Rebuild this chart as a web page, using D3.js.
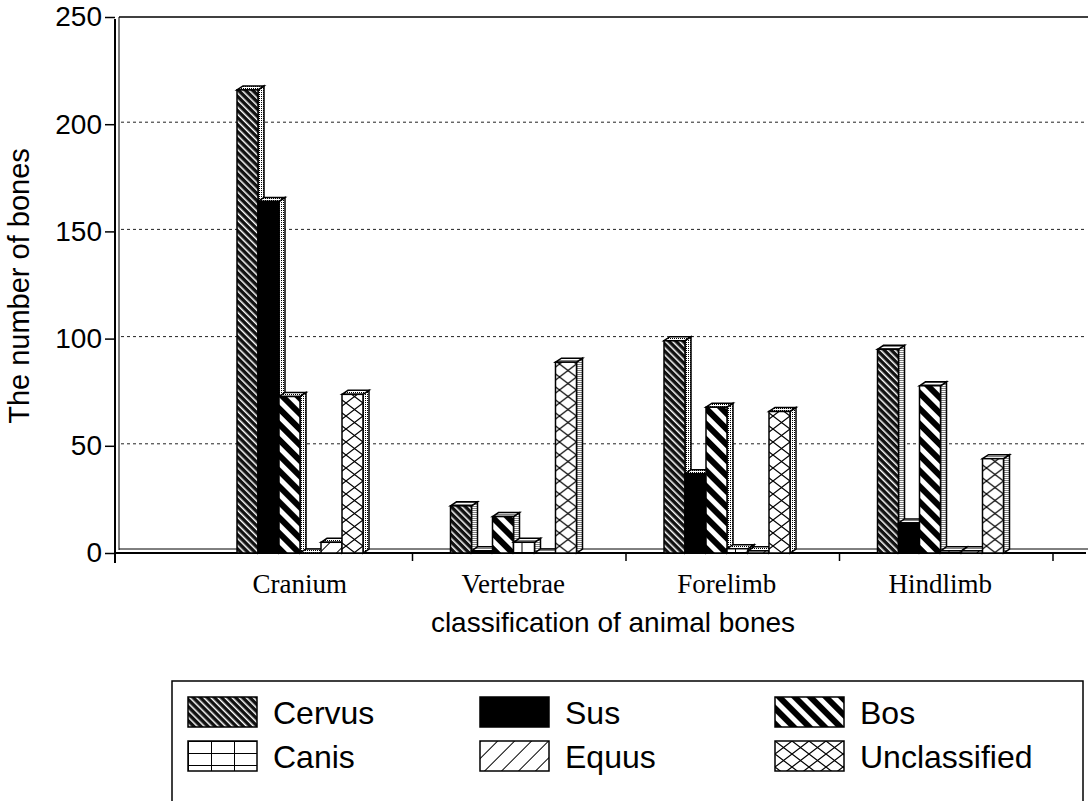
<!DOCTYPE html>
<html>
<head>
<meta charset="utf-8">
<script src="https://cdn.jsdelivr.net/npm/d3@7"></script>
<style>
  body { margin: 0; background: #fff; }
  svg { display: block; }
</style>
</head>
<body>
<svg class="chart"></svg>
<script>
var width = 1088, height = 801;

// data
var categories = ["Cranium", "Vertebrae", "Forelimb", "Hindlimb"];
var series = ["Cervus", "Sus", "Bos", "Canis", "Equus", "Unclassified"];
var cervus = [216, 22, 99, 95];
var sus = [164, 1, 37, 14];
var bos = [73, 17, 68, 78];
var canis = [0, 5, 2, 1];
var equus = [5, 0, 1, 1];
var unclassified = [74, 89, 66, 44];
var yTicks = [0, 50, 100, 150, 200, 250];

var values = [cervus, sus, bos, canis, equus, unclassified];
var fills = ["url(#p-cervus)", "#000", "url(#p-bos)", "url(#p-canis)", "url(#p-equus)", "url(#p-uncl)"];

var chart = d3.select(".chart")
    .attr("width", width)
    .attr("height", height);

chart.append("rect").attr("width", width).attr("height", height).attr("fill", "#fff");

// patterns
var defs = chart.append("defs");

var p = defs.append("pattern").attr("id", "p-cervus")
    .attr("patternUnits", "userSpaceOnUse").attr("width", 5).attr("height", 5)
    .attr("patternTransform", "rotate(-45)");
p.append("rect").attr("width", 5).attr("height", 5).attr("fill", "#111");
p.append("rect").attr("x", 0).attr("width", 1.5).attr("height", 5).attr("fill", "#fff");

p = defs.append("pattern").attr("id", "p-bos")
    .attr("patternUnits", "userSpaceOnUse").attr("width", 11).attr("height", 11)
    .attr("patternTransform", "rotate(-45)");
p.append("rect").attr("width", 11).attr("height", 11).attr("fill", "#fff");
p.append("rect").attr("width", 6).attr("height", 11).attr("fill", "#000");

p = defs.append("pattern").attr("id", "p-canis")
    .attr("patternUnits", "userSpaceOnUse").attr("width", 23).attr("height", 12);
p.append("rect").attr("width", 23).attr("height", 12).attr("fill", "#fff");
p.append("path").attr("d", "M0,0.5H23M0.5,0V12").attr("stroke", "#000").attr("stroke-width", 1);

p = defs.append("pattern").attr("id", "p-equus")
    .attr("patternUnits", "userSpaceOnUse").attr("width", 12).attr("height", 12)
    .attr("patternTransform", "rotate(45)");
p.append("rect").attr("width", 12).attr("height", 12).attr("fill", "#fff");
p.append("rect").attr("width", 1).attr("height", 12).attr("fill", "#000");

p = defs.append("pattern").attr("id", "p-uncl")
    .attr("patternUnits", "userSpaceOnUse").attr("width", 17).attr("height", 13);
p.append("rect").attr("width", 17).attr("height", 13).attr("fill", "#fff");
p.append("path").attr("d", "M0,0L17,13M17,0L0,13").attr("stroke", "#000").attr("stroke-width", 1.2);

p = defs.append("pattern").attr("id", "p-dots")
    .attr("patternUnits", "userSpaceOnUse").attr("width", 2).attr("height", 2);
p.append("rect").attr("width", 2).attr("height", 2).attr("fill", "#fff");
p.append("rect").attr("width", 1).attr("height", 1).attr("fill", "#000");

// scales
var y = d3.scaleLinear().domain([0, 250]).range([553, 17]);
var x0 = d3.scaleBand().domain(categories).range([193, 1047]);
var x1 = d3.scaleBand().domain(series).range([44, 170]);
var dx = 6, dy = 4;

// back wall gridlines
chart.append("g").selectAll("line")
    .data(yTicks.filter(function(d) { return d > 0 && d < 250; }))
    .enter().append("line")
    .attr("x1", 121).attr("x2", 1086)
    .attr("y1", function(d) { return y(d) - 2; }).attr("y2", function(d) { return y(d) - 2; })
    .attr("stroke", "#222").attr("stroke-width", 1).attr("stroke-dasharray", "3,3");

// top line
chart.append("line").attr("x1", 119).attr("x2", 1088)
    .attr("y1", y(250)).attr("y2", y(250)).attr("stroke", "#000").attr("stroke-width", 1.3);

// walls (double lines)
chart.append("line").attr("x1", 115).attr("x2", 115).attr("y1", y(250) + 2).attr("y2", y(0) + 10)
    .attr("stroke", "#000").attr("stroke-width", 2);
chart.append("line").attr("x1", 119).attr("x2", 119).attr("y1", y(250)).attr("y2", y(0) - 3)
    .attr("stroke", "#000").attr("stroke-width", 1);
chart.append("line").attr("x1", 115).attr("x2", 1086).attr("y1", y(0)).attr("y2", y(0))
    .attr("stroke", "#000").attr("stroke-width", 2);
chart.append("line").attr("x1", 119).attr("x2", 1088).attr("y1", y(0) - dy).attr("y2", y(0) - dy)
    .attr("stroke", "#000").attr("stroke-width", 1);

// y axis
var yAxis = chart.append("g")
    .attr("transform", "translate(115,0)")
    .call(d3.axisLeft(y).tickValues(yTicks).tickSize(10).tickPadding(3));
yAxis.select(".domain").remove();
yAxis.selectAll("line").attr("stroke-width", 1.5);
yAxis.selectAll("text")
    .attr("font-family", "Liberation Sans, Arial, sans-serif")
    .attr("font-size", 28).attr("fill", "#000");

// x ticks at category boundaries
chart.append("g").selectAll("line")
    .data(categories)
    .enter().append("line")
    .attr("x1", function(d) { return x0(d) + x0.bandwidth() + 6; })
    .attr("x2", function(d) { return x0(d) + x0.bandwidth() + 6; })
    .attr("y1", y(0)).attr("y2", y(0) + 8)
    .attr("stroke", "#000").attr("stroke-width", 1.5);

// bars
var groups = chart.append("g").selectAll("g")
    .data(categories)
    .enter().append("g")
    .attr("transform", function(d) { return "translate(" + x0(d) + ",0)"; });

var bar = groups.selectAll("g")
    .data(function(c, ci) {
        return series.map(function(s, si) { return { s: s, si: si, v: values[si][ci] }; });
    })
    .enter().append("g");

var w = x1.bandwidth();
var y0 = y(0);

bar.append("path")   // side face
    .attr("d", function(d) {
        var x = x1(d.s), t = y(d.v);
        return "M" + (x + w) + "," + t + "L" + (x + w + dx) + "," + (t - dy) +
            "L" + (x + w + dx) + "," + (y0 - dy) + "L" + (x + w) + "," + y0 + "Z";
    })
    .attr("fill", "url(#p-dots)").attr("stroke", "#000").attr("stroke-width", 1.5);

bar.append("path")   // top face
    .attr("d", function(d) {
        var x = x1(d.s), t = y(d.v);
        return "M" + x + "," + t + "L" + (x + dx) + "," + (t - dy) +
            "L" + (x + w + dx) + "," + (t - dy) + "L" + (x + w) + "," + t + "Z";
    })
    .attr("fill", "url(#p-dots)").attr("stroke", "#000").attr("stroke-width", 1.5);

bar.append("rect")   // front face
    .attr("x", function(d) { return x1(d.s); })
    .attr("y", function(d) { return y(d.v); })
    .attr("width", w)
    .attr("height", function(d) { return y0 - y(d.v); })
    .attr("fill", function(d) { return fills[d.si]; })
    .attr("stroke", "#000").attr("stroke-width", 1.5);

// x labels
var xAxis = chart.append("g")
    .attr("transform", "translate(0," + y0 + ")")
    .call(d3.axisBottom(x0).tickSize(0).tickPadding(21));
xAxis.select(".domain").remove();
xAxis.selectAll("text")
    .attr("font-family", "Liberation Serif, Times New Roman, serif")
    .attr("font-size", 27).attr("fill", "#000");

chart.append("text")
    .attr("x", 613).attr("y", 632)
    .attr("text-anchor", "middle")
    .attr("font-family", "Liberation Sans, Arial, sans-serif")
    .attr("font-size", 28)
    .text("classification of animal bones");

chart.append("text")
    .attr("transform", "translate(29,286) rotate(-90)")
    .attr("text-anchor", "middle")
    .attr("font-family", "Liberation Sans, Arial, sans-serif")
    .attr("font-size", 29)
    .text("The number of bones");

// legend
chart.append("rect")
    .attr("x", 172).attr("y", 681).attr("width", 911).attr("height", 130)
    .attr("fill", "none").attr("stroke", "#000").attr("stroke-width", 1.5);

var legCols = [188, 480, 775];
var legRows = [697, 741];
var item = chart.append("g").selectAll("g")
    .data(series)
    .enter().append("g")
    .attr("transform", function(d, i) {
        return "translate(" + legCols[i % 3] + "," + legRows[Math.floor(i / 3)] + ")";
    });
item.append("rect")
    .attr("width", 69).attr("height", 30)
    .attr("fill", function(d, i) { return fills[i]; })
    .attr("stroke", "#000").attr("stroke-width", 1.5);
item.append("text")
    .attr("x", 85).attr("y", 27)
    .attr("font-family", "Liberation Sans, Arial, sans-serif")
    .attr("font-size", 32)
    .text(function(d) { return d; });
</script>
</body>
</html>
